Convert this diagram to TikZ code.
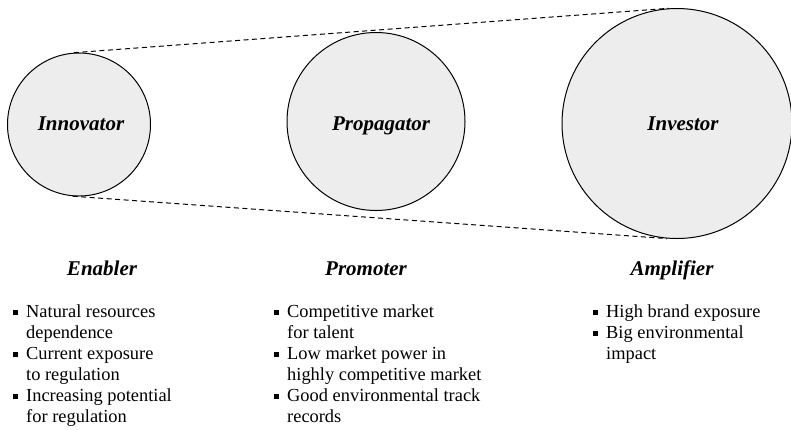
\documentclass[tikz,border=0pt]{standalone}
\usepackage{fontspec}
\setmainfont{Liberation Serif}
\newcommand{\itm}{\leavevmode\llap{\raisebox{2.6pt}{\rule{4.8pt}{4.8pt}}\hspace{8pt}}}
\tikzset{
  role/.style={circle, draw, line width=1pt, fill=gray!14, inner sep=0pt},
  kind/.style={anchor=base, font=\fontsize{21}{24}\selectfont\bfseries\itshape},
  traits/.style={anchor=north west, align=left, inner sep=0pt,
    font=\fontsize{18.4}{21.1}\selectfont},
  link/.style={line width=1pt, dash pattern=on 5pt off 3.5pt}
}

\begin{document}
\begin{tikzpicture}[x=1pt, y=-1pt]
\useasboundingbox (0,0) rectangle (791,429);
% the three roles
\node (innovator) at (79,124.5) [role, minimum size=143pt] {};
\node (propagator) at (376,121.5) [role, minimum size=178pt] {};
\node (investor) at (677,123.5) [role, minimum size=230pt] {};
\draw [link] (innovator.94.3) -- (investor.94.3);
\draw [link] (innovator.265.9) -- (investor.265.9);
\node (innovatorname) at (81,130) [kind] {Innovator};
\node (propagatorname) at (381,130) [kind] {Propagator};
\node (investorname) at (683,130) [kind] {Investor};
% what each one does
\node (enabler) at (102,275) [kind] {Enabler};
\node (promoter) at (366,275) [kind] {Promoter};
\node (amplifier) at (672,275) [kind] {Amplifier};
\node (enablerlist) at (26,304.5) [traits]
  {\itm Natural resources\\dependence\\\itm Current exposure\\to regulation\\\itm Increasing potential\\for regulation};
\node (promoterlist) at (287,304.5) [traits]
  {\itm Competitive market\\for talent\\\itm Low market power in\\highly competitive market\\\itm Good environmental track\\records};
\node (amplifierlist) at (606,304.5) [traits]
  {\itm High brand exposure\\\itm Big environmental\\impact};
\end{tikzpicture}
\end{document}
